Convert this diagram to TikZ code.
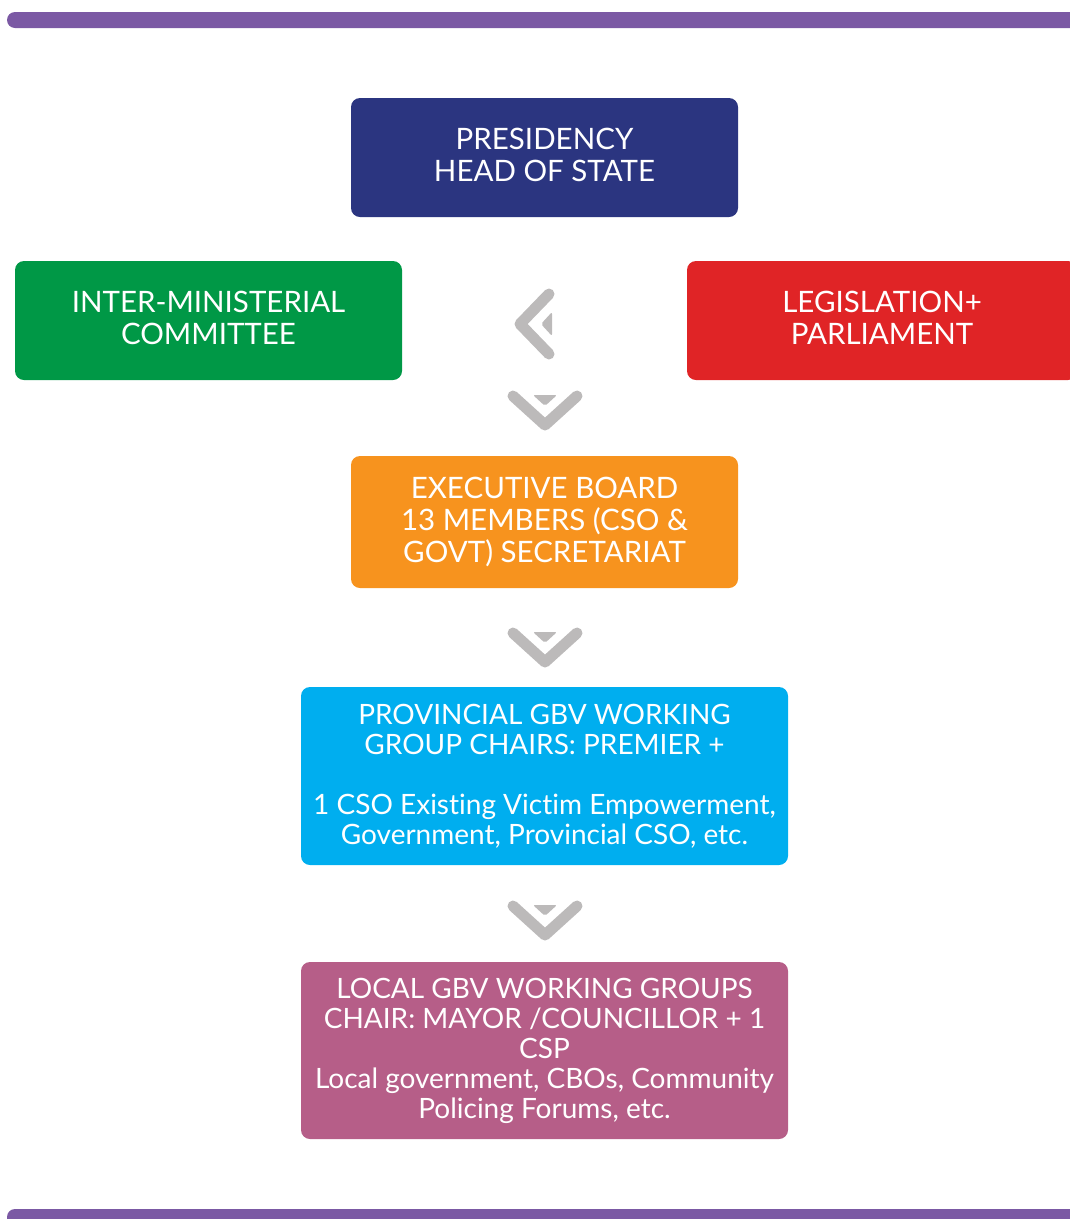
\documentclass[tikz,border=0pt]{standalone}
\usepackage{fontspec}
\setmainfont{Lato}[Ligatures=NoCommon]
\definecolor{barpurple}{HTML}{7B59A4}
\definecolor{presblue}{HTML}{2B3580}
\definecolor{imcgreen}{HTML}{009846}
\definecolor{legred}{HTML}{E02426}
\definecolor{execorange}{HTML}{F7931E}
\definecolor{provcyan}{HTML}{00AEEF}
\definecolor{localpink}{HTML}{B65E88}
\definecolor{chevgray}{HTML}{BCBABA}

\begin{document}
\begin{tikzpicture}[x=1pt,y=-1pt,
	box/.style={rounded corners=9pt, text=white, align=center, inner sep=0pt,
		font=\fontsize{29.5}{32}\selectfont},
	smallbox/.style={box, font=\fontsize{28}{30}\selectfont},
	chev/.style={draw=chevgray, line width=11pt, line cap=round, line join=round}]
	\useasboundingbox (0,0) rectangle (1070,1219);
	% bars
	\fill[barpurple, rounded corners=8pt] (7,12) rectangle (1090,28);
	\fill[barpurple, rounded corners=8pt] (7,1209) rectangle (1090,1235);

	\node[box, fill=presblue, minimum width=387pt, minimum height=119pt] (pres) at (544.5,157.5) {PRESIDENCY\\HEAD OF STATE\rule[-6pt]{0pt}{6pt}};
	\node[box, fill=imcgreen, minimum width=387pt, minimum height=119pt] (imc) at (208.5,320.5) {INTER-MINISTERIAL\\COMMITTEE\rule[-6pt]{0pt}{6pt}};
	\node[box, fill=legred, minimum width=390pt, minimum height=119pt] (leg) at (882,320.5) {LEGISLATION+\\PARLIAMENT\rule[-6pt]{0pt}{6pt}};
	\node[box, fill=execorange, minimum width=387pt, minimum height=132pt] (exec) at (544.5,522) {EXECUTIVE BOARD\\13 MEMBERS (CSO \&\\GOVT) SECRETARIAT};
	\node[smallbox, fill=provcyan, minimum width=487pt, minimum height=178pt] (prov) at (544.5,776) {PROVINCIAL GBV WORKING\\GROUP CHAIRS: PREMIER +\\[30pt]1 CSO Existing Victim Empowerment,\\Government, Provincial CSO, etc.};
	\node[smallbox, fill=localpink, minimum width=487pt, minimum height=177pt] (local) at (544.5,1050.5) {LOCAL GBV WORKING GROUPS\\CHAIR: MAYOR /COUNCILLOR + 1\\CSP\\Local government, CBOs, Community\\Policing Forums, etc.};

	% chevrons
	\draw[chev] (549,294) -- (520,324) -- (549,354);
	\fill[chevgray, rounded corners=2pt] (552,312) -- (552,336) -- (541,324) -- cycle;
	\foreach \y in {410, 647, 920}{
		\draw[chev] (513,\y-14) -- (545,\y+15) -- (577,\y-14);
		\fill[chevgray, rounded corners=2pt] (533,\y-15) -- (557,\y-15) -- (545,\y-4) -- cycle;
	}
\end{tikzpicture}
\end{document}
